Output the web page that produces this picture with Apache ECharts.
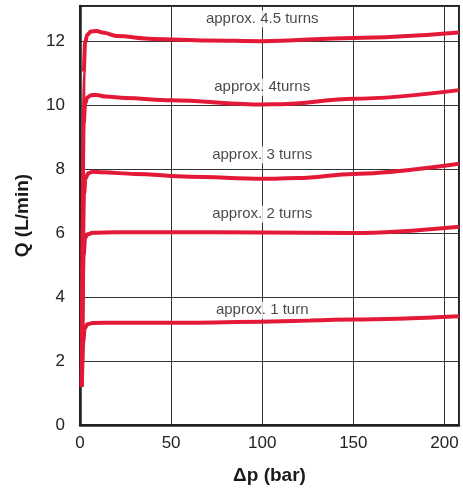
<!DOCTYPE html>
<html>
<head>
<meta charset="utf-8">
<script src="https://cdn.jsdelivr.net/npm/echarts@6/dist/echarts.min.js"></script>
<style>
  html, body { margin: 0; padding: 0; background: #fff; }
  #chart { width: 463px; height: 495px; }
</style>
</head>
<body>
<div id="chart"></div>
<script>
// curve data: [Δp (bar), Q (L/min)]
const turns1 = [[1, 1.2], [1.8, 2.6], [2.5, 3.0], [4, 3.15], [7, 3.19], [20, 3.2], [60, 3.2], [100, 3.23], [150, 3.3], [208, 3.4]];
const turns2 = [[1, 1.2], [2, 5.3], [2.8, 5.85], [4, 5.96], [7, 6.01], [20, 6.03], [50, 6.03], [100, 6.02], [150, 6.0], [208, 6.2]];
const turns3 = [[1, 1.2], [2.2, 7.2], [3, 7.7], [4.5, 7.87], [7, 7.92], [12, 7.9], [30, 7.85], [60, 7.76], [100, 7.7], [120, 7.72], [150, 7.85], [208, 8.17]];
const turns4 = [[1, 1.2], [2, 9.4], [2.8, 10.05], [4, 10.24], [6, 10.31], [9, 10.32], [14, 10.27], [25, 10.22], [50, 10.15], [100, 10.02], [110, 10.03], [150, 10.2], [208, 10.47]];
const turns45 = [[1, 1.2], [2, 11.0], [2.8, 11.95], [4, 12.2], [6, 12.3], [9, 12.32], [13, 12.26], [20, 12.16], [40, 12.07], [70, 12.02], [100, 12.0], [150, 12.1], [208, 12.27]];

const curveNames = ['approx. 1 turn', 'approx. 2 turns', 'approx. 3 turns', 'approx. 4turns', 'approx. 4.5 turns'];
const curves = [turns1, turns2, turns3, turns4, turns45];
// where each curve label sits
const labelX = [100, 100, 100, 100, 100];
const labelY = [3.59, 6.59, 8.44, 10.56, 12.69];

const xTicks = [0, 50, 100, 150, 200];
const yTicks = [0, 2, 4, 6, 8, 10, 12];

const red = '#E31937';

const chart = echarts.init(document.getElementById('chart'));

const series = curves.map((data, i) => ({
  name: curveNames[i],
  type: 'line',
  data: data,
  smooth: 0.35,
  smoothMonotone: 'x',
  symbol: 'none',
  lineStyle: { color: red, width: 4 },
  z: 3
}));

series.push({
  type: 'scatter',
  data: curveNames.map((n, i) => [labelX[i], labelY[i], n]),
  symbolSize: 0,
  silent: true,
  z: 4,
  label: {
    show: true,
    position: 'inside',
    formatter: p => p.data[2],
    color: '#1a1a1a',
    fontFamily: 'Liberation Sans',
    fontSize: 15,
    backgroundColor: '#fff',
    padding: [1, 2]
  }
});

chart.setOption({
  animation: false,
  grid: {
    left: 80,
    right: 4,
    top: 6,
    bottom: 70,
    show: true,
    borderColor: '#222',
    borderWidth: 2,
    backgroundColor: '#fff'
  },
  xAxis: {
    type: 'value',
    min: 0,
    max: 208,
    interval: 50,
    name: 'Δp (bar)',
    nameLocation: 'middle',
    nameGap: 41,
    nameTextStyle: { fontFamily: 'Liberation Sans', fontSize: 19, fontWeight: 'bold', color: '#1a1a1a' },
    axisLine: { show: true, lineStyle: { color: '#222', width: 2.5 } },
    axisTick: { show: false },
    axisLabel: {
      fontFamily: 'Liberation Sans', fontSize: 17, color: '#222', margin: 10,
      formatter: v => xTicks.includes(v) ? String(v) : ''
    },
    splitLine: { show: true, lineStyle: { color: '#333', width: 1 } }
  },
  yAxis: {
    type: 'value',
    min: 0,
    max: 13.1,
    interval: 2,
    name: 'Q (L/min)',
    nameLocation: 'middle',
    nameGap: 48,
    nameTextStyle: { fontFamily: 'Liberation Sans', fontSize: 19, fontWeight: 'bold', color: '#1a1a1a' },
    axisLine: { show: true, lineStyle: { color: '#222', width: 2.5 } },
    axisTick: { show: false },
    axisLabel: {
      fontFamily: 'Liberation Sans', fontSize: 17, color: '#222', margin: 15,
      formatter: v => yTicks.includes(v) ? String(v) : ''
    },
    splitLine: { show: true, lineStyle: { color: '#333', width: 1 } }
  },
  series: series
});
</script>
</body>
</html>
